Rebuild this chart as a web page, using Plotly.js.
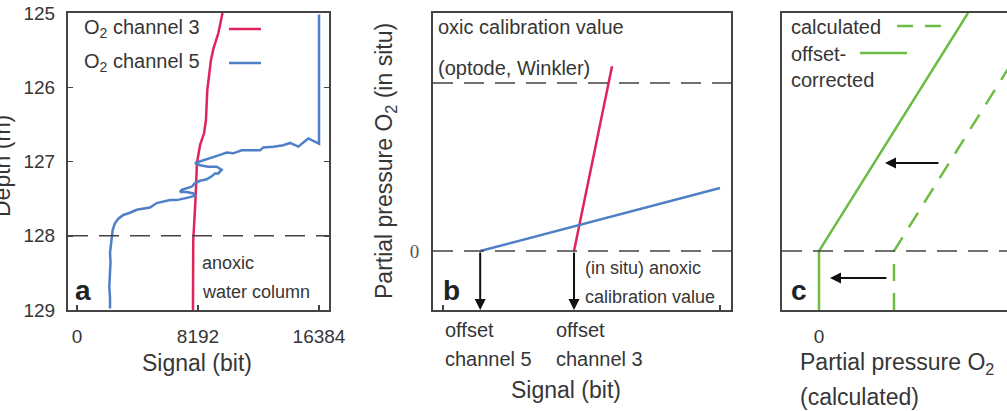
<!DOCTYPE html>
<html>
<head>
<meta charset="utf-8">
<script src="https://cdn.plot.ly/plotly-3.0.1.min.js"></script>
<style>
  html, body { margin: 0; padding: 0; background: #fff; overflow: hidden; }
  #chart { width: 1007px; height: 411px; }
</style>
</head>
<body>
<div id="chart"></div>
<script>
// ---- Panel a: depth profiles of the two optode channels ----
const ch3Depth  = [125.00, 125.27, 125.39, 125.47, 125.63, 126.04, 126.44, 126.62, 126.78, 126.89, 127.02, 127.52, 128.06, 128.50, 129.00];
const ch3Signal = [9850, 9570, 9380, 9250, 9070, 8820, 8730, 8600, 8330, 8210, 8120, 8020, 7870, 7860, 7850];

const ch5Depth  = [125.02, 126.76, 126.69, 126.80, 126.75, 126.78, 126.80, 126.81, 126.85, 126.85, 126.85, 126.89, 126.88, 126.91, 126.94, 126.96, 127.00, 127.02,
                   127.05, 127.07, 127.07, 127.11, 127.16, 127.16, 127.20, 127.24, 127.26, 127.29, 127.34, 127.36, 127.38, 127.41, 127.41, 127.43, 127.46,
                   127.48, 127.50, 127.52, 127.52, 127.54, 127.56, 127.62, 127.63, 127.65, 127.69, 127.72, 127.77, 127.83, 127.92, 128.01, 128.12, 128.23,
                   128.35, 128.53, 128.69, 128.84, 128.98];
const ch5Signal = [16384, 16384, 15659, 14982, 14420, 13966, 13289, 12613, 12389, 11712, 11150, 10582, 10135, 9681, 9228, 8781, 8327, 7989,
                   8327, 8889, 9458, 9796, 9566, 9343, 9119, 8781, 8327, 7989, 7765, 7427, 7088, 6973, 7427, 7873, 7989,
                   7650, 7196, 6750, 6296, 5842, 5396, 4942, 4489, 4042, 3588, 3135, 2796, 2573, 2417, 2349, 2302, 2234,
                   2268, 2200, 2187, 2234, 2234];

const depthTicks  = [125, 126, 127, 128, 129];
const signalTicks = [0, 8192, 16384];
const signalTickText = ['0', '8192', '16384'];
const anoxicDepth = 128;

// ---- Panel b: two-point calibration lines (signal vs. in-situ pO2) ----
const offsetCh5 = 2200;
const offsetCh3 = 7750;
const calib5Signal   = [offsetCh5, 16384];
const calib5Pressure = [0, 0.375];
const calib3Signal   = [offsetCh3, 10000];
const calib3Pressure = [0, 1.10];
const oxicLevel = 1;
const anoxicLevel = 0;

// ---- Panel c: calculated vs offset-corrected pO2 ----
const calcPressure      = [1, 1, 2.987];
const correctedPressure = [0, 0, 1.987];
const profileLevel      = [-0.351, 0, 1.417];

// colours and fonts
const RED = '#e0245a', BLUE = '#4f7fc6', GREEN = '#6dbd45';
const TXT = '#363636', FRAME = '#444444';
const SANS = 'Liberation Sans, Arial, Helvetica, sans-serif';
const SERIF = 'Liberation Serif, Times New Roman, serif';
const GREEN_DASH = '17px,12px';

const W = 1007, H = 411;
const px = v => v / W;
const py = v => 1 - v / H;

const traces = [
  { x: ch3Signal, y: ch3Depth, xaxis: 'x', yaxis: 'y', mode: 'lines', line: { color: RED, width: 2.5 }, name: 'O2 channel 3' },
  { x: ch5Signal, y: ch5Depth, xaxis: 'x', yaxis: 'y', mode: 'lines', line: { color: BLUE, width: 2.5 }, name: 'O2 channel 5' },
  { x: calib3Signal, y: calib3Pressure, xaxis: 'x2', yaxis: 'y2', mode: 'lines', line: { color: RED, width: 2.5 } },
  { x: calib5Signal, y: calib5Pressure, xaxis: 'x2', yaxis: 'y2', mode: 'lines', line: { color: BLUE, width: 2.5 } },
  { x: calcPressure, y: profileLevel, xaxis: 'x3', yaxis: 'y3', mode: 'lines', line: { color: GREEN, width: 2.5, dash: GREEN_DASH } },
  { x: correctedPressure, y: profileLevel, xaxis: 'x3', yaxis: 'y3', mode: 'lines', line: { color: GREEN, width: 2.5 } }
];

const yDom = [py(310), py(13)];
const frame = { showline: true, linewidth: 2, linecolor: FRAME, showgrid: false, zeroline: false };
const tickFont = { family: SANS, size: 19, color: TXT };

const dashLine = (xref, yref, y) => ({
  type: 'line', xref: xref + ' domain', yref: yref, x0: 0, x1: 1, y0: y, y1: y,
  line: { color: FRAME, width: 1.6, dash: '20px,11px' }
});
const legendLine = (x0, x1, y, color, dash) => ({
  type: 'line', xref: 'paper', yref: 'paper', x0: px(x0), x1: px(x1), y0: py(y), y1: py(y),
  line: { color: color, width: 2.5, dash: dash || 'solid' }
});

const label = (text, x, y, size, opts) => Object.assign({
  text: text, xref: 'paper', yref: 'paper', x: px(x), y: py(y),
  xanchor: 'left', yanchor: 'middle', showarrow: false,
  font: { family: SANS, size: size, color: TXT }
}, opts || {});

const arrow = (xa, ya, x, y, ax, ay) => ({
  text: '', xref: xa, yref: ya, axref: xa, ayref: ya, x: x, y: y, ax: ax, ay: ay,
  showarrow: true, arrowhead: 2, arrowsize: 1.1, arrowwidth: 2, arrowcolor: '#111'
});

const annotations = [
  // panel a
  label('O<sub>2</sub> channel 3', 82, 28, 20),
  label('O<sub>2</sub> channel 5', 82, 62, 20),
  label('anoxic', 200, 263, 18),
  label('water column', 200, 292, 18),
  label('<b>a</b>', 73, 290, 28, { font: { family: SANS, size: 28, color: '#222' } }),
  label('Signal (bit)', 197, 363, 23, { xanchor: 'center' }),
  label('Depth (m)', 2, 166, 23, { xanchor: 'center', textangle: -90 }),
  // panel b
  label('oxic calibration value', 436, 27, 20),
  label('(optode, Winkler)', 436, 68, 20),
  label('(in situ) anoxic', 583, 268, 18),
  label('calibration value', 583, 297, 18),
  label('<b>b</b>', 441, 290, 28, { font: { family: SANS, size: 28, color: '#222' } }),
  label('offset', 443, 330, 20),
  label('channel 5', 443, 359, 20),
  label('offset', 554, 330, 20),
  label('channel 3', 554, 359, 20),
  label('Signal (bit)', 566, 390, 23, { xanchor: 'center' }),
  label('Partial pressure O<sub>2</sub> (in situ)', 385, 161, 23, { xanchor: 'center', textangle: -90 }),
  arrow('x2', 'y2', offsetCh5, -0.351, offsetCh5, anoxicLevel),
  arrow('x2', 'y2', offsetCh3, -0.351, offsetCh3, anoxicLevel),
  // panel c
  label('calculated', 789, 27, 20),
  label('offset-', 789, 54, 20),
  label('corrected', 789, 80, 20),
  label('<b>c</b>', 789, 290, 28, { font: { family: SANS, size: 28, color: '#222' } }),
  label('Partial pressure O<sub>2</sub>', 798, 363, 23),
  label('(calculated)', 798, 397, 23),
  arrow('x3', 'y3', 0.88, 0.524, 1.613, 0.524),
  arrow('x3', 'y3', 0.147, -0.161, 0.92, -0.161)
];

const shapes = [
  dashLine('x', 'y', anoxicDepth),
  dashLine('x2', 'y2', oxicLevel),
  dashLine('x2', 'y2', anoxicLevel),
  dashLine('x3', 'y3', anoxicLevel),
  legendLine(229, 261, 29, RED),
  legendLine(229, 261, 63, BLUE),
  legendLine(897, 942, 26, GREEN, '16px,12px'),
  legendLine(860, 907, 53, GREEN)
];

const layout = {
  width: W, height: H,
  margin: { l: 0, r: 0, t: 0, b: 0 },
  paper_bgcolor: '#fff', plot_bgcolor: '#fff',
  showlegend: false,
  font: { family: SANS, color: TXT },
  xaxis: Object.assign({}, frame, {
    domain: [px(68), px(329)], range: [-610, 17060], anchor: 'y',
    tickvals: signalTicks, ticktext: signalTickText, ticks: 'inside', ticklen: 5, tickwidth: 1.5, tickcolor: FRAME,
    mirror: true, tickfont: tickFont, ticklabelstandoff: 8
  }),
  yaxis: Object.assign({}, frame, {
    domain: yDom, range: [129, 125], anchor: 'x',
    tickvals: depthTicks, ticks: 'inside', ticklen: 5, tickwidth: 1.5, tickcolor: FRAME,
    mirror: 'ticks', tickfont: tickFont, ticklabelstandoff: 7
  }),
  xaxis2: Object.assign({}, frame, {
    domain: [px(433), px(731)], range: [-591, 17035], anchor: 'y2',
    tickvals: [0, 16384], ticks: 'inside', ticklen: 5, tickwidth: 1.5, tickcolor: FRAME,
    showticklabels: false, mirror: true
  }),
  yaxis2: Object.assign({}, frame, {
    domain: yDom, range: [-0.351, 1.417], anchor: 'x2',
    tickvals: [0], ticktext: ['0'], ticks: '', mirror: true,
    tickfont: { family: SERIF, size: 19, color: '#555' }, ticklabelstandoff: 8
  }),
  xaxis3: Object.assign({}, frame, {
    domain: [px(782), 1], range: [-0.493, 2.507], anchor: 'y3',
    tickvals: [0], ticktext: ['0'], ticks: '', mirror: true,
    tickfont: tickFont, ticklabelstandoff: 8
  }),
  yaxis3: Object.assign({}, frame, {
    domain: yDom, range: [-0.351, 1.417], anchor: 'x3',
    showticklabels: false, ticks: '', mirror: false
  }),
  shapes: shapes,
  annotations: annotations
};

Plotly.newPlot('chart', traces, layout, { staticPlot: true, displayModeBar: false });
</script>
</body>
</html>
